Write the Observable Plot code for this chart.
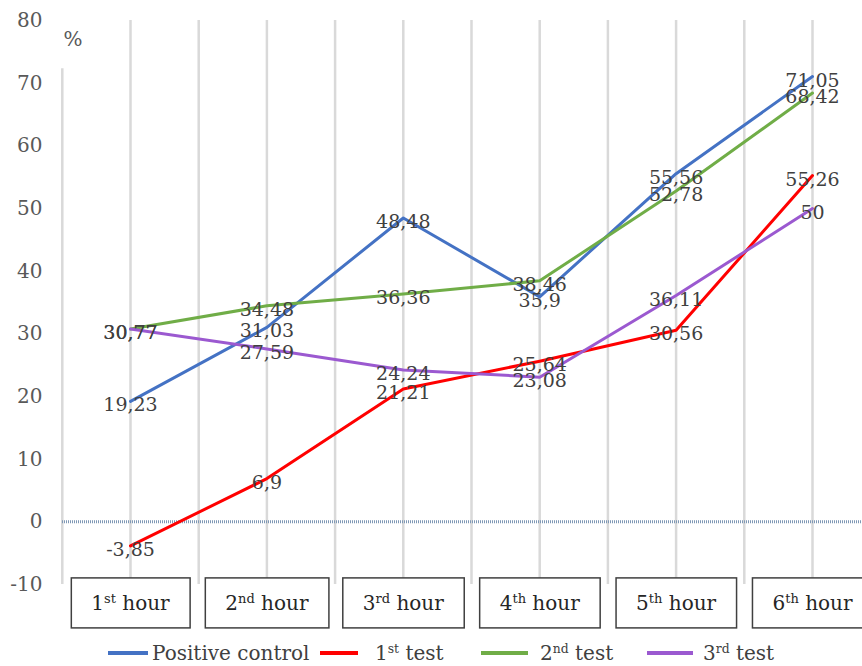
<!DOCTYPE html>
<html>
<head>
<meta charset="utf-8">
<script src="https://cdn.jsdelivr.net/npm/d3@7"></script>
<script src="https://cdn.jsdelivr.net/npm/@observablehq/plot@0.6"></script>
<style>
  html, body { margin: 0; padding: 0; background: #fff; }
  #wrap { width: 862px; height: 666px; position: relative; overflow: hidden; }
  #legend { position: relative; height: 30px; font-family: "DejaVu Serif", serif; font-size: 20px; color: #404040; }
  #legend .sw { position: absolute; height: 4px; top: 15px; }
  #legend .lb { position: absolute; top: 2px; line-height: 30px; white-space: nowrap; }
  #legend sup { font-size: 0.62em; vertical-align: 0; position: relative; top: -0.55em; }
</style>
</head>
<body>
<div id="wrap"></div>
<script>
// ---- data ----
const hours = ["1st hour", "2nd hour", "3rd hour", "4th hour", "5th hour", "6th hour"];
const seriesNames = ["Positive control", "1st test", "2nd test", "3rd test"];
const positiveControl = [19.23, 31.03, 48.48, 35.9, 55.56, 71.05];
const test1 = [-3.85, 6.9, 21.21, 25.64, 30.56, 55.26];
const test2 = [30.77, 34.48, 36.36, 38.46, 52.78, 68.42];
const test3 = [30.77, 27.59, 24.24, 23.08, 36.11, 50];
const yTicks = [-10, 0, 10, 20, 30, 40, 50, 60, 70, 80];
const seriesColors = ["#4472C4", "#FF0000", "#70AD47", "#9B59D0"];

const seriesValues = [positiveControl, test1, test2, test3];
const data = seriesNames.flatMap((s, k) =>
  seriesValues[k].map((v, i) => ({series: s, i, hour: hours[i], value: v}))
);
const fmt = v => String(v).replace(".", ",");

// gridline positions: band centers and band edges
const gridEdges = hours.map((h, i) => i - 0.5);
const gridCenters = hours.map((h, i) => i);

const chart = Plot.plot({
  width: 862,
  height: 636,
  marginLeft: 62,
  marginRight: 0,
  marginTop: 20,
  marginBottom: 52,
  style: {fontFamily: "DejaVu Serif, serif", fontSize: "20px", color: "#595959", background: "white"},
  x: {domain: [0, 5], range: [130, 812], axis: null},
  y: {domain: [-10, 80], range: [584, 20], ticks: yTicks, tickSize: 0, tickPadding: 20, label: null, tickFormat: d => String(d)},
  color: {domain: seriesNames, range: seriesColors},
  marks: [
    Plot.ruleX(gridEdges.slice(0, 1), {y1: -10, y2: 72.3, stroke: "#d9d9d9", strokeWidth: 2.5}),
    Plot.ruleX(gridEdges.slice(1), {y1: -10, y2: 80, stroke: "#d9d9d9", strokeWidth: 2.5}),
    Plot.ruleX(gridCenters, {y1: -10, y2: 80, stroke: "#d9d9d9", strokeWidth: 2.5}),
    Plot.ruleY([0], {stroke: "#7f98b5", strokeWidth: 3, strokeDasharray: "1,1"}),
    Plot.line(data, {x: "i", y: "value", stroke: "series", strokeWidth: 3}),
    Plot.text(data, {x: "i", y: "value", text: d => fmt(d.value), dy: 4, fill: "#404040", fontSize: 19}),
    Plot.text(["%"], {frameAnchor: "top-left", textAnchor: "start", lineAnchor: "top", dx: 1, dy: 11, fill: "#595959", fontSize: 20}),
    Plot.text(hours, {x: (d, i) => i, frameAnchor: "bottom", lineAnchor: "middle", dy: 19, fill: "#262626", fontSize: 20})
  ]
});

document.getElementById("wrap").append(chart);

// superscripts + boxes for hour labels
const re = /^(\d+)(st|nd|rd|th)(.*)$/;
const hourTexts = Array.from(chart.querySelectorAll("text")).filter(t => re.test(t.textContent) && t.textContent.includes("hour"));
hourTexts.forEach(t => {
  const m = t.textContent.match(re);
  t.textContent = "";
  const a = document.createElementNS("http://www.w3.org/2000/svg", "tspan");
  a.textContent = m[1];
  const b = document.createElementNS("http://www.w3.org/2000/svg", "tspan");
  b.textContent = m[2];
  b.setAttribute("font-size", "13");
  b.setAttribute("dy", "-7");
  const c = document.createElementNS("http://www.w3.org/2000/svg", "tspan");
  c.textContent = m[3];
  c.setAttribute("dy", "7");
  t.append(a, b, c);
});
if (hourTexts.length) {
  const g = hourTexts[0].closest("g");
  const boxG = document.createElementNS("http://www.w3.org/2000/svg", "g");
  hourTexts.forEach(t => {
    const bb = t.getBBox();
    const ctm = t.getCTM();
    const sctm = chart.getCTM ? chart.getCTM() : null;
    let x = bb.x, y = bb.y;
    // convert to chart coordinates using the transform of the text element
    const pt = chart.createSVGPoint();
    pt.x = bb.x; pt.y = bb.y;
    const m1 = t.getScreenCTM(), m0 = chart.getScreenCTM();
    const p = pt.matrixTransform(m0.inverse().multiply(m1));
    const cy = p.y + bb.height / 2;
    const r = document.createElementNS("http://www.w3.org/2000/svg", "rect");
    r.setAttribute("x", p.x - 20);
    r.setAttribute("width", bb.width + 40);
    r.setAttribute("y", cy - 25);
    r.setAttribute("height", 50);
    r.setAttribute("fill", "white");
    r.setAttribute("stroke", "#404040");
    r.setAttribute("stroke-width", "1.5");
    boxG.append(r);
  });
  g.parentNode.insertBefore(boxG, g);
}

// legend
const legend = document.createElement("div");
legend.id = "legend";
const items = [
  {sw: [108, 40], tx: 152, html: "Positive control"},
  {sw: [320, 38], tx: 375, html: "1<sup>st</sup> test"},
  {sw: [481, 47], tx: 540, html: "2<sup>nd</sup> test"},
  {sw: [647, 46], tx: 703, html: "3<sup>rd</sup> test"}
];
items.forEach((it, k) => {
  const s = document.createElement("div");
  s.className = "sw";
  s.style.left = it.sw[0] + "px";
  s.style.width = it.sw[1] + "px";
  s.style.background = seriesColors[k];
  const l = document.createElement("div");
  l.className = "lb";
  l.style.left = it.tx + "px";
  l.innerHTML = it.html;
  legend.append(s, l);
});
document.getElementById("wrap").append(legend);
</script>
</body>
</html>
